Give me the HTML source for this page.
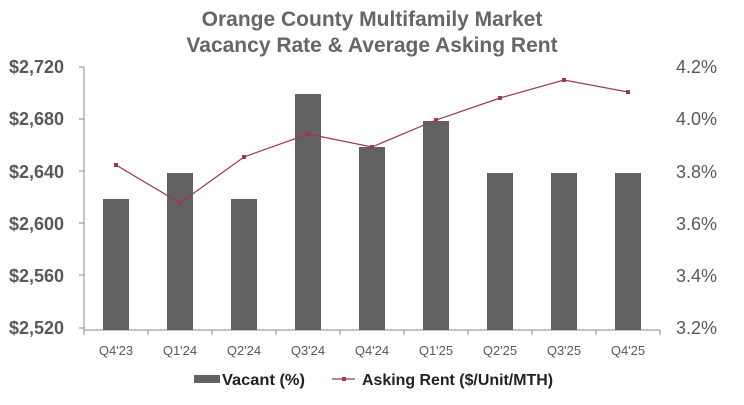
<!DOCTYPE html>
<html><head><style>
body{margin:0;background:#fff;}
svg text{font-family:"Liberation Sans",sans-serif;}
</style></head><body>
<svg width="744" height="400" xmlns="http://www.w3.org/2000/svg">
<text x="372" y="26" text-anchor="middle" font-size="21" font-weight="bold" fill="#666">Orange County Multifamily Market</text>
<text x="372" y="52" text-anchor="middle" font-size="21" font-weight="bold" fill="#666">Vacancy Rate &amp; Average Asking Rent</text>
<g font-size="18" font-weight="bold" fill="#595959" text-anchor="end">
<text x="64" y="73">$2,720</text><text x="64" y="125">$2,680</text><text x="64" y="178">$2,640</text>
<text x="64" y="230">$2,600</text><text x="64" y="282">$2,560</text><text x="64" y="334">$2,520</text>
</g>
<g font-size="18" fill="#595959" text-anchor="start">
<text x="676" y="73">4.2%</text><text x="676" y="125">4.0%</text><text x="676" y="178">3.8%</text>
<text x="676" y="230">3.6%</text><text x="676" y="282">3.4%</text><text x="676" y="334">3.2%</text>
</g>
<g stroke="#888" stroke-width="1">
<line x1="84" y1="67" x2="84" y2="330"/>
<line x1="79" y1="67" x2="84" y2="67"/><line x1="79" y1="119" x2="84" y2="119"/><line x1="79" y1="171" x2="84" y2="171"/>
<line x1="79" y1="223" x2="84" y2="223"/><line x1="79" y1="275" x2="84" y2="275"/><line x1="79" y1="328" x2="84" y2="328"/>
<line x1="84" y1="330" x2="660" y2="330"/>
<line x1="84" y1="330" x2="84" y2="335"/><line x1="148" y1="330" x2="148" y2="335"/><line x1="212" y1="330" x2="212" y2="335"/>
<line x1="276" y1="330" x2="276" y2="335"/><line x1="340" y1="330" x2="340" y2="335"/><line x1="404" y1="330" x2="404" y2="335"/>
<line x1="468" y1="330" x2="468" y2="335"/><line x1="532" y1="330" x2="532" y2="335"/><line x1="596" y1="330" x2="596" y2="335"/>
<line x1="660" y1="330" x2="660" y2="335"/>
</g>
<g fill="#626262">
<rect x="103" y="199" width="26" height="131"/>
<rect x="167" y="173" width="26" height="157"/>
<rect x="231" y="199" width="26" height="131"/>
<rect x="295" y="94" width="26" height="236"/>
<rect x="359" y="147" width="26" height="183"/>
<rect x="423" y="121" width="26" height="209"/>
<rect x="487" y="173" width="26" height="157"/>
<rect x="551" y="173" width="26" height="157"/>
<rect x="615" y="173" width="26" height="157"/>
</g>
<polyline fill="none" stroke="#9b3a4a" stroke-width="1.2" points="116,165 180,203 244,157 308,134 372,147 436,120 500,98 564,80 628,92"/>
<g fill="#9b3a4a">
<rect x="114" y="163" width="4" height="4"/><rect x="178" y="201" width="4" height="4"/><rect x="242" y="155" width="4" height="4"/>
<rect x="306" y="132" width="4" height="4"/><rect x="370" y="145" width="4" height="4"/><rect x="434" y="118" width="4" height="4"/>
<rect x="498" y="96" width="4" height="4"/><rect x="562" y="78" width="4" height="4"/><rect x="626" y="90" width="4" height="4"/>
</g>
<g font-size="13" fill="#595959" text-anchor="middle">
<text x="116" y="355">Q4'23</text><text x="180" y="355">Q1'24</text><text x="244" y="355">Q2'24</text>
<text x="308" y="355">Q3'24</text><text x="372" y="355">Q4'24</text><text x="436" y="355">Q1'25</text>
<text x="500" y="355">Q2'25</text><text x="564" y="355">Q3'25</text><text x="628" y="355">Q4'25</text>
</g>
<rect x="194" y="375" width="26" height="8" fill="#626262"/>
<text x="222" y="385" font-size="16" font-weight="bold" fill="#222" textLength="83" lengthAdjust="spacingAndGlyphs">Vacant (%)</text>
<line x1="332" y1="379" x2="355" y2="379" stroke="#9b3a4a" stroke-width="1.2"/>
<rect x="342" y="377" width="4" height="4" fill="#9b3a4a"/>
<text x="362" y="385" font-size="16" font-weight="bold" fill="#222" textLength="191" lengthAdjust="spacingAndGlyphs">Asking Rent ($/Unit/MTH)</text>
</svg>
</body></html>
